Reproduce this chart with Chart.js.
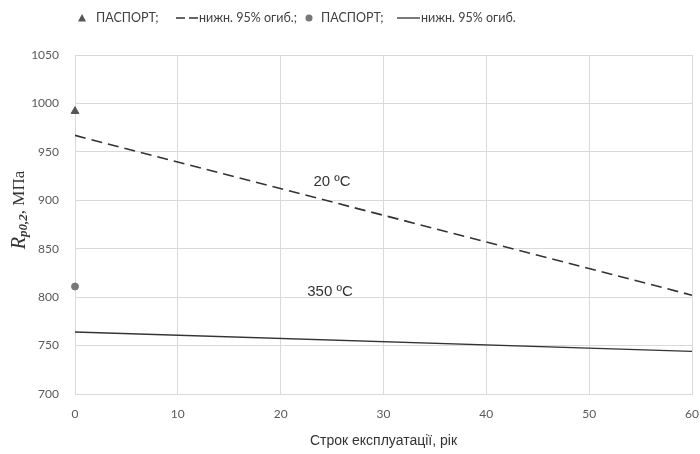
<!DOCTYPE html>
<html>
<head>
<meta charset="utf-8">
<script src="https://cdn.jsdelivr.net/npm/chart.js@4"></script>
<style>
  html, body { margin: 0; padding: 0; background: #fff; }
  #wrap { width: 700px; height: 454px; }
</style>
</head>
<body>
<div id="wrap"><canvas id="grafico" width="700" height="454"></canvas></div>
<script>
// Дані
const roky = [0, 60];
const nyzhn20 = [967, 802];      // нижн. 95% огиб., 20 ºC
const nyzhn350 = [764, 744];     // нижн. 95% огиб., 350 ºC
const pasport20 = [{ x: 0, y: 992 }];
const pasport350 = [{ x: 0, y: 811 }];
const xTicks = [0, 10, 20, 30, 40, 50, 60];
const yTicks = [700, 750, 800, 850, 900, 950, 1000, 1050];
const napysy = [
  { text: '20 ºC', x: 25, y: 919 },
  { text: '350 ºC', x: 24.8, y: 805 }
];

const tickFont = { family: 'Lato', size: 12 };
const tickColor = '#595959';

// легенда зверху + осьовий підпис з індексом + підписи температур
const malyunky = {
  id: 'malyunky',
  afterDraw(chart) {
    const c = chart.ctx;
    const sx = chart.scales.x, sy = chart.scales.y;
    c.save();

    // підписи біля ліній
    c.fillStyle = '#333';
    c.font = '15px "Liberation Sans"';
    c.textAlign = 'center';
    c.textBaseline = 'middle';
    napysy.forEach(n => c.fillText(n.text, sx.getPixelForValue(n.x), sy.getPixelForValue(n.y)));

    // легенда
    const ly = 18;
    c.font = '12.5px Lato';
    c.textAlign = 'left';
    // трикутник
    c.fillStyle = '#555';
    c.beginPath();
    c.moveTo(82, ly - 4); c.lineTo(86, ly + 3.5); c.lineTo(78, ly + 3.5); c.closePath();
    c.fill();
    c.fillStyle = '#404040';
    c.fillText('ПАСПОРТ;', 96, ly);
    // штрих
    c.strokeStyle = '#333'; c.lineWidth = 1.5;
    c.setLineDash([9, 4]);
    c.beginPath(); c.moveTo(176, ly); c.lineTo(198, ly); c.stroke();
    c.setLineDash([]);
    c.fillText('нижн. 95% огиб.;', 199, ly);
    // коло
    c.fillStyle = '#777';
    c.beginPath(); c.arc(309, ly, 3.5, 0, Math.PI * 2); c.fill();
    c.fillStyle = '#404040';
    c.fillText('ПАСПОРТ;', 321, ly);
    // суцільна
    c.lineWidth = 1.3;
    c.beginPath(); c.moveTo(397, ly); c.lineTo(420, ly); c.stroke();
    c.fillText('нижн. 95% огиб.', 421, ly);

    // підпис осі Y: R p0,2 , МПа
    c.translate(20, 210);
    c.rotate(-Math.PI / 2);
    const parts = [
      { t: 'R', f: 'italic 20px "Liberation Serif"', dy: 0 },
      { t: 'p0,2', f: 'italic bold 13px "Liberation Serif"', dy: 4 },
      { t: ', МПа', f: '17px "Liberation Serif"', dy: 0 }
    ];
    let w = 0;
    parts.forEach(p => { c.font = p.f; w += c.measureText(p.t).width; });
    let x = -w / 2;
    c.fillStyle = '#333';
    c.textBaseline = 'middle';
    parts.forEach(p => { c.font = p.f; c.fillText(p.t, x, p.dy); x += c.measureText(p.t).width; });
    c.restore();
  }
};

new Chart(document.getElementById('grafico').getContext('2d'), {
  type: 'scatter',
  data: {
    datasets: [
      {
        label: 'ПАСПОРТ;',
        data: pasport20,
        pointStyle: 'triangle',
        pointRadius: 4.5,
        backgroundColor: '#555',
        borderColor: '#555',
        clip: false
      },
      {
        label: 'нижн. 95% огиб.;',
        data: roky.map((r, i) => ({ x: r, y: nyzhn20[i] })),
        showLine: true,
        pointRadius: 0,
        borderColor: '#333',
        borderWidth: 1.6,
        borderDash: [11, 6]
      },
      {
        label: 'ПАСПОРТ;',
        data: pasport350,
        pointStyle: 'circle',
        pointRadius: 3.5,
        backgroundColor: '#777',
        borderColor: '#777',
        clip: false
      },
      {
        label: 'нижн. 95% огиб.',
        data: roky.map((r, i) => ({ x: r, y: nyzhn350[i] })),
        showLine: true,
        pointRadius: 0,
        borderColor: '#333',
        borderWidth: 1.3
      }
    ]
  },
  options: {
    responsive: false,
    animation: false,
    layout: { padding: { top: 55, right: 8, left: 0, bottom: 0 } },
    plugins: {
      legend: { display: false },
      tooltip: { enabled: false }
    },
    scales: {
      x: {
        type: 'linear',
        min: 0, max: 60,
        afterBuildTicks: s => { s.ticks = xTicks.map(v => ({ value: v })); },
        afterFit: s => { s.height = 60; s.paddingLeft = 0; s.paddingRight = 0; },
        grid: { color: '#d9d9d9', drawTicks: false },
        border: { color: '#d9d9d9' },
        ticks: { font: tickFont, color: tickColor, padding: 13, callback: v => String(v) },
        title: {
          display: true,
          text: 'Строк експлуатації, рік',
          font: { family: 'Liberation Sans', size: 14 },
          color: '#333',
          padding: { top: 10 }
        }
      },
      y: {
        min: 700, max: 1050,
        afterBuildTicks: s => { s.ticks = yTicks.map(v => ({ value: v })); },
        afterFit: s => { s.width = 75; },
        grid: { color: '#d9d9d9', drawTicks: false },
        border: { color: '#d9d9d9' },
        ticks: { font: tickFont, color: tickColor, padding: 16, callback: v => String(v) }
      }
    }
  },
  plugins: [malyunky]
});
</script>
</body>
</html>
